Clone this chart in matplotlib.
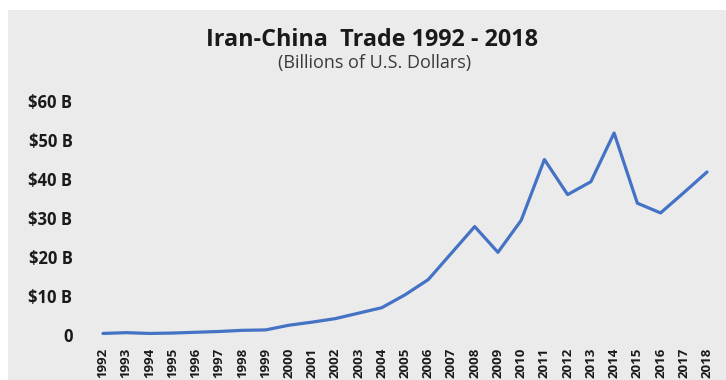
import numpy as np
import matplotlib
matplotlib.use('Agg')
import matplotlib.pyplot as plt
from matplotlib.patches import Rectangle

plt.rcParams['font.family'] = ['Open Sans', 'DejaVu Sans']

# Iran-China trade, billions of US dollars
years = list(range(1992, 2019))
trade = [0.4, 0.6, 0.4, 0.5, 0.7, 0.9, 1.2, 1.3, 2.5, 3.3,
         4.2, 5.6, 7.0, 10.3, 14.2, 21.0, 27.8, 21.2, 29.4, 45.0,
         36.0, 39.3, 51.8, 33.8, 31.3, 36.5, 41.8]
yticks = [0, 10, 20, 30, 40, 50, 60]
ylabels = ['0', '$10 B', '$20 B', '$30 B', '$40 B', '$50 B', '$60 B']

W, H = 726, 380
fig = plt.figure(figsize=(W / 100, H / 100), dpi=100, facecolor='white')

# grey panel behind everything (small white strip top/left)
fig.patches.append(Rectangle((8 / W, 0), 1 - 8 / W, 1 - 10 / H,
                             transform=fig.transFigure, facecolor='#ebebeb',
                             edgecolor='none', zorder=-10))

# axes placed in pixels: x 96..714, y 95..345 (from top)
ax = fig.add_axes([96 / W, (H - 345) / H, (714 - 96) / W, 250 / H])
ax.set_facecolor('none')
ax.plot(years, trade, color='#4472c4', linewidth=2.3, solid_capstyle='round')

ax.set_xlim(1991.70, 2018.30)
ax.set_ylim(-10 / 3.9, 60 + 6 / 3.9)
ax.set_xticks(years)
ax.set_xticklabels([str(y) for y in years], rotation=90, fontsize=9.5,
                   fontweight='bold', color='#1a1a1a')
ax.set_yticks(yticks)
ax.set_yticklabels(ylabels, fontsize=12, fontweight='bold', color='#1a1a1a')
ax.tick_params(axis='both', length=0)
ax.tick_params(axis='y', pad=17)
ax.tick_params(axis='x', pad=2)
for s in ax.spines.values():
    s.set_visible(False)

fig.text(372 / W, 1 - 40 / H, 'Iran-China  Trade 1992 - 2018', ha='center',
         va='center', fontsize=16.8, fontweight='bold', color='#1a1a1a')
fig.text(375 / W, 1 - 63 / H, '(Billions of U.S. Dollars)', ha='center',
         va='center', fontsize=13, color='#3a3a3a')

fig.savefig('out.png', dpi=100, facecolor=fig.get_facecolor())
